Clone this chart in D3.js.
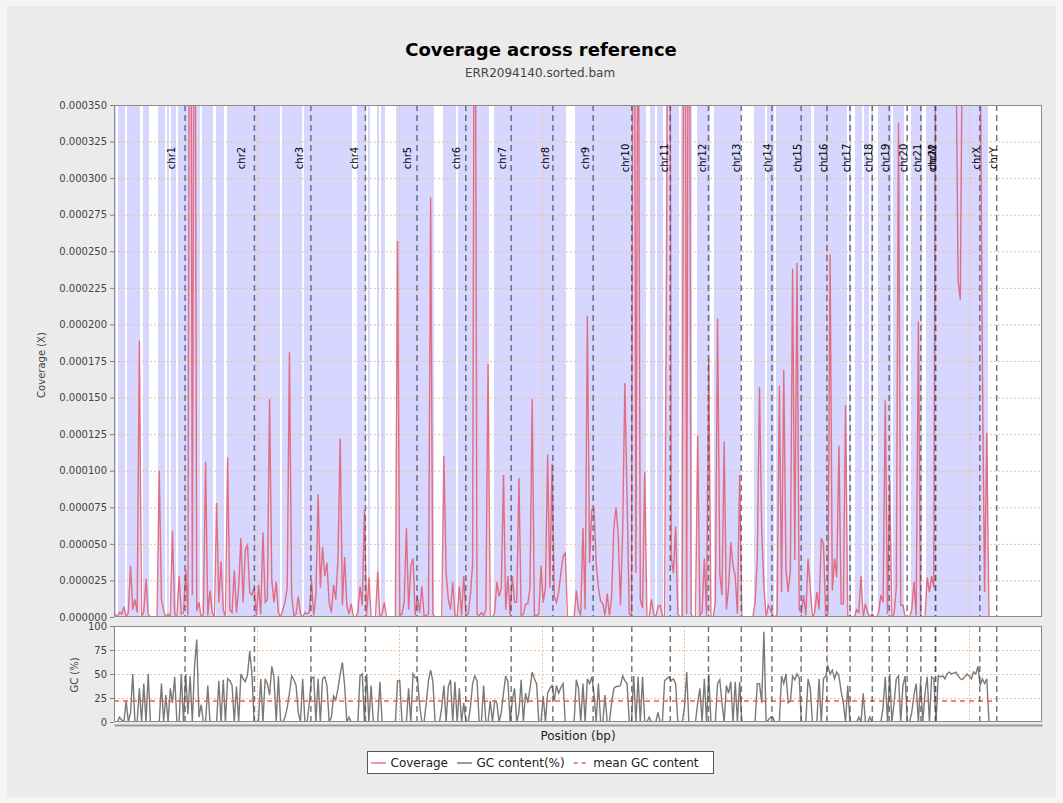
<!DOCTYPE html>
<html>
<head>
<meta charset="utf-8">
<script src="https://cdn.jsdelivr.net/npm/d3@7"></script>
<style>
  body { margin: 0; background: #f5f5f5; font-family: "DejaVu Sans", sans-serif; }
</style>
</head>
<body>
<svg id="chart" width="1063" height="803"></svg>
<script>
// chromosome names and lengths (bp)
const chromNames = ['chr1', 'chr2', 'chr3', 'chr4', 'chr5', 'chr6', 'chr7', 'chr8', 'chr9', 'chr10',
  'chr11', 'chr12', 'chr13', 'chr14', 'chr15', 'chr16', 'chr17', 'chr18', 'chr19', 'chr20',
  'chr21', 'chr22', 'chrM', 'chrX', 'chrY'];
const chromLengths = [249250621, 243199373, 198022430, 191154276, 180915260, 171115067, 159138663,
  146364022, 141213431, 135534747, 135006516, 133851895, 115169878, 107349540, 102531392,
  90354753, 81195210, 78077248, 59128983, 63025520, 48129895, 51304566, 16571, 155270560, 59373566];

// mean coverage per window (units of 1e-6 X), 400 windows
const coverage = [
  2, 0, 3, 2, 7, 0, 3, 35, 5, 12,
  3, 189, 0, 4, 26, 2, 0, 0, 0, 0,
  100, 12, 4, 0, 2, 0, 59, 2, 0, 28,
  2, 3, 32, 1, 700, 15, 600, 4, 10, 0,
  2, 106, 1, 18, 3, 0, 78, 10, 38, 5,
  0, 109, 5, 3, 32, 3, 20, 54, 10, 46,
  49, 17, 15, 20, 1, 22, 2, 58, 10, 12,
  149, 25, 10, 24, 3, 0, 5, 10, 20, 181,
  15, 1, 2, 14, 2, 0, 3, 2, 3, 25,
  1, 15, 84, 20, 48, 28, 37, 10, 3, 22,
  12, 40, 122, 8, 41, 8, 2, 9, 0, 0,
  3, 21, 8, 73, 0, 27, 0, 0, 0, 31,
  0, 2, 10, 0, 0, 0, 0, 0, 257, 1,
  2, 10, 61, 5, 35, 40, 1, 14, 3, 21,
  1, 1, 2, 287, 2, 0, 0, 0, 0, 110,
  30, 12, 5, 24, 1, 0, 21, 1, 28, 1,
  2, 15, 36, 600, 2, 1, 3, 1, 5, 173,
  0, 0, 3, 24, 14, 20, 97, 5, 28, 1,
  28, 10, 10, 95, 1, 2, 9, 9, 20, 149,
  1, 1, 2, 35, 10, 20, 111, 20, 105, 14,
  10, 17, 30, 41, 44, 0, 0, 0, 0, 18,
  5, 1, 61, 5, 206, 37, 73, 74, 37, 20,
  11, 9, 1, 16, 1, 14, 61, 75, 55, 8,
  59, 160, 80, 2, 1, 700, 30, 500, 12, 6,
  99, 0, 0, 12, 2, 0, 7, 8, 1, 0,
  286, 800, 41, 30, 62, 2, 0, 1, 700, 2,
  650, 2, 0, 0, 124, 1, 3, 40, 1, 176,
  0, 0, 10, 204, 30, 15, 120, 5, 20, 51,
  35, 28, 2, 97, 0, 0, 0, 0, 0, 0,
  10, 40, 157, 60, 21, 0, 8, 5, 1, 0,
  2, 158, 17, 169, 32, 17, 32, 238, 39, 242,
  5, 3, 15, 1, 40, 20, 0, 3, 17, 5,
  54, 50, 1, 2, 248, 18, 40, 27, 117, 9,
  9, 145, 0, 1, 0, 0, 5, 3, 28, 0,
  9, 3, 0, 2, 0, 0, 3, 15, 10, 148,
  2, 93, 0, 2, 20, 338, 8, 8, 0, 0,
  0, 5, 24, 1, 202, 1, 0, 0, 27, 17,
  28, 20, 520, 480, 510, 470, 500, 490, 460, 480,
  450, 400, 230, 217, 420, 470, 490, 480, 500, 470,
  480, 500, 400, 170, 17, 126, 0, 0, 0, 0
];

// GC content per window (%)
const gcContent = [
  0, 0, 5, 2, 0, 22, 0, 10, 50, 0,
  0, 35, 0, 40, 0, 50, 0, 0, 0, 0,
  0, 40, 0, 28, 0, 35, 20, 47, 0, 0,
  50, 0, 50, 8, 48, 0, 58, 86, 5, 18,
  0, 0, 38, 0, 0, 0, 0, 43, 0, 44,
  0, 45, 43, 38, 0, 37, 0, 50, 45, 42,
  49, 74, 50, 0, 0, 2, 45, 0, 45, 40,
  28, 58, 46, 0, 48, 0, 0, 5, 15, 30,
  48, 44, 38, 10, 0, 45, 0, 0, 20, 45,
  47, 0, 45, 0, 45, 47, 38, 0, 5, 27,
  23, 35, 50, 62, 38, 0, 5, 0, 0, 0,
  0, 48, 50, 0, 50, 0, 38, 0, 0, 0,
  42, 0, 0, 0, 0, 0, 0, 0, 43, 43,
  0, 0, 0, 35, 0, 50, 46, 46, 18, 0,
  0, 20, 43, 54, 42, 0, 0, 0, 15, 38,
  0, 37, 44, 0, 42, 0, 35, 0, 20, 0,
  0, 15, 40, 48, 43, 0, 0, 38, 0, 0,
  22, 0, 22, 20, 0, 10, 30, 48, 42, 0,
  22, 35, 0, 10, 44, 0, 30, 20, 35, 52,
  45, 40, 0, 0, 27, 0, 30, 35, 38, 22,
  38, 30, 36, 40, 0, 0, 0, 0, 0, 44,
  35, 0, 40, 0, 45, 40, 47, 30, 0, 40,
  0, 0, 28, 0, 0, 20, 35, 37, 37, 38,
  48, 43, 40, 0, 0, 48, 0, 47, 0, 47,
  0, 0, 5, 0, 0, 0, 10, 0, 0, 43,
  45, 47, 43, 45, 40, 0, 0, 0, 15, 52,
  0, 0, 0, 0, 20, 35, 0, 45, 0, 50,
  0, 0, 0, 40, 44, 20, 0, 38, 30, 42,
  0, 42, 0, 42, 0, 0, 0, 0, 0, 0,
  0, 40, 40, 20, 94, 0, 2, 5, 5, 0,
  0, 0, 48, 40, 50, 20, 22, 48, 44, 50,
  46, 0, 0, 0, 45, 35, 0, 0, 0, 45,
  0, 45, 48, 58, 50, 54, 45, 52, 48, 32,
  20, 0, 38, 0, 0, 0, 0, 5, 0, 30,
  0, 0, 5, 0, 0, 0, 0, 0, 15, 47,
  0, 50, 0, 20, 45, 48, 0, 38, 48, 0,
  0, 10, 28, 40, 0, 42, 0, 30, 47, 0,
  47, 45, 0, 48, 47, 48, 45, 50, 52, 50,
  51, 52, 48, 45, 44, 47, 50, 48, 45, 52,
  50, 58, 38, 45, 40, 45, 0, 0, 0, 0
];

const meanGC = 22;

// axis ticks
const covTicks = [0, 25, 50, 75, 100, 125, 150, 175, 200, 225, 250, 275, 300, 325, 350];
const gcTicks = [0, 25, 50, 75, 100];
const posTicks = [500e6, 1000e6, 1500e6, 2000e6, 2500e6, 3000e6];
const xMax = 3.2545e9;

const left = 114, right = 1042;
const covTop = 105, covBottom = 617;
const gcTop = 626, gcBottom = 722;

const svg = d3.select('#chart');

svg.append('rect')
  .attr('x', 7).attr('y', 6).attr('width', 1049).attr('height', 791)
  .attr('fill', '#ebebeb');

const genomeLength = d3.sum(chromLengths);
const chromEnds = Array.from(d3.cumsum(chromLengths));
const windowSize = genomeLength / coverage.length;
const windows = coverage.map((c, i) => ({
  start: i * windowSize,
  mid: (i + 0.5) * windowSize,
  end: (i + 1) * windowSize,
  cov: c,
  gc: gcContent[i]
}));

const x = d3.scaleLinear().domain([0, xMax]).range([left, right]);
const yCov = d3.scaleLinear().domain([0, 350]).range([covBottom, covTop]);
const yGC = d3.scaleLinear().domain([0, 100]).range([gcBottom, gcTop]);

// plot backgrounds and clip paths
const defs = svg.append('defs');
defs.append('clipPath').attr('id', 'clipCov')
  .append('rect').attr('x', left).attr('y', covTop).attr('width', right - left).attr('height', covBottom - covTop);
defs.append('clipPath').attr('id', 'clipGC')
  .append('rect').attr('x', left).attr('y', gcTop).attr('width', right - left).attr('height', gcBottom - gcTop);

svg.append('rect').attr('x', left).attr('y', covTop).attr('width', right - left)
  .attr('height', covBottom - covTop).attr('fill', '#fff');
svg.append('rect').attr('x', left).attr('y', gcTop).attr('width', right - left)
  .attr('height', gcBottom - gcTop).attr('fill', '#fff');

const covPlot = svg.append('g').attr('clip-path', 'url(#clipCov)');
const gcPlot = svg.append('g').attr('clip-path', 'url(#clipGC)');

// deviation band: windows with reads
covPlot.append('g')
  .selectAll('rect')
  .data(windows.filter(d => d.cov > 0))
  .enter()
  .append('rect')
  .attr('x', d => x(d.start))
  .attr('width', d => x(d.end) - x(d.start))
  .attr('y', covTop)
  .attr('height', covBottom - covTop)
  .attr('fill', '#d6d6ff')
  .attr('shape-rendering', 'crispEdges');

// gridlines
const gridColor = '#f0bf98';
covPlot.append('g')
  .selectAll('line')
  .data(covTicks.filter(t => t > 0))
  .enter()
  .append('line')
  .attr('x1', left).attr('x2', right)
  .attr('y1', d => yCov(d) + 0.5).attr('y2', d => yCov(d) + 0.5)
  .attr('stroke', gridColor).attr('stroke-dasharray', '2,2');
gcPlot.append('g')
  .selectAll('line')
  .data(gcTicks.filter(t => t > 0))
  .enter()
  .append('line')
  .attr('x1', left).attr('x2', right)
  .attr('y1', d => yGC(d) + 0.5).attr('y2', d => yGC(d) + 0.5)
  .attr('stroke', gridColor).attr('stroke-dasharray', '2,2');
[[covPlot, covTop, covBottom], [gcPlot, gcTop, gcBottom]].forEach(([g, t, b]) => {
  g.append('g')
    .selectAll('line')
    .data(posTicks)
    .enter()
    .append('line')
    .attr('x1', d => Math.round(x(d)) + 0.5).attr('x2', d => Math.round(x(d)) + 0.5)
    .attr('y1', t).attr('y2', b)
    .attr('stroke', gridColor).attr('stroke-dasharray', '2,2');
});

// coverage line
covPlot.append('path')
  .datum(windows)
  .attr('d', d3.line().x(d => x(d.mid)).y(d => yCov(d.cov)))
  .attr('fill', 'none')
  .attr('stroke', '#e35a6b')
  .attr('stroke-opacity', 0.85)
  .attr('stroke-width', 1.4);

// GC line and mean GC
gcPlot.append('path')
  .datum(windows)
  .attr('d', d3.line().x(d => x(d.mid)).y(d => yGC(d.gc)))
  .attr('fill', 'none')
  .attr('stroke', '#6a6a6a')
  .attr('stroke-opacity', 0.9)
  .attr('stroke-width', 1.4);

gcPlot.append('line')
  .attr('x1', x(0)).attr('x2', x(genomeLength))
  .attr('y1', yGC(meanGC)).attr('y2', yGC(meanGC))
  .attr('stroke', '#f05a5a')
  .attr('stroke-width', 1.5)
  .attr('stroke-dasharray', '5,4');

// chromosome boundaries
[[covPlot, covTop, covBottom], [gcPlot, gcTop, gcBottom]].forEach(([g, t, b]) => {
  g.append('g')
    .selectAll('line')
    .data(chromEnds)
    .enter()
    .append('line')
    .attr('x1', d => x(d)).attr('x2', d => x(d))
    .attr('y1', t).attr('y2', b)
    .attr('stroke', '#4a4a55')
    .attr('stroke-opacity', 0.75)
    .attr('stroke-width', 1.5)
    .attr('stroke-dasharray', '6,4');
});

covPlot.append('g')
  .selectAll('text')
  .data(chromNames)
  .enter()
  .append('text')
  .attr('transform', (d, i) => {
    const px = x(chromEnds[i]);
    const off = Math.max(0, 10 - 10 * (px - 186) / 650);
    return 'translate(' + (px - off) + ',158)rotate(-90)';
  })
  .attr('text-anchor', 'middle')
  .attr('font-size', 10)
  .attr('fill', '#000')
  .text(d => d);

// plot outlines
svg.append('rect').attr('x', left + 0.5).attr('y', covTop + 0.5)
  .attr('width', right - left - 1).attr('height', covBottom - covTop - 1)
  .attr('fill', 'none').attr('stroke', '#8a8a8a');
svg.append('rect').attr('x', left + 0.5).attr('y', gcTop + 0.5)
  .attr('width', right - left - 1).attr('height', gcBottom - gcTop - 1)
  .attr('fill', 'none').attr('stroke', '#8a8a8a');

// axes
const covAxis = svg.append('g')
  .attr('transform', 'translate(' + left + ',0)')
  .call(d3.axisLeft(yCov).tickValues(covTicks)
    .tickFormat(v => d3.format('.6f')(v / 1e6))
    .tickSize(4).tickPadding(3));
const gcAxis = svg.append('g')
  .attr('transform', 'translate(' + left + ',0)')
  .call(d3.axisLeft(yGC).tickValues(gcTicks).tickSize(4).tickPadding(3));
[covAxis, gcAxis].forEach(a => {
  a.select('.domain').remove();
  a.selectAll('line').attr('stroke', '#808080');
  a.selectAll('text').attr('font-family', 'DejaVu Sans').attr('font-size', 10).attr('fill', '#444');
});

const xAxis = svg.append('g')
  .attr('transform', 'translate(0,725)')
  .call(d3.axisBottom(x).tickValues([]).tickSizeOuter(0));
xAxis.select('.domain').attr('stroke', '#9a9a9a').attr('stroke-width', 2);

// axis titles
svg.append('text')
  .attr('transform', 'translate(45,365)rotate(-90)')
  .attr('text-anchor', 'middle')
  .attr('font-size', 10).attr('fill', '#444')
  .text('Coverage (X)');
svg.append('text')
  .attr('transform', 'translate(78,675)rotate(-90)')
  .attr('text-anchor', 'middle')
  .attr('font-size', 10).attr('fill', '#444')
  .text('GC (%)');
svg.append('text')
  .attr('x', (left + right) / 2).attr('y', 740)
  .attr('text-anchor', 'middle')
  .attr('font-size', 12).attr('fill', '#222')
  .text('Position (bp)');

// title
svg.append('text')
  .attr('x', 541).attr('y', 56)
  .attr('text-anchor', 'middle')
  .attr('font-size', 18).attr('font-weight', 'bold').attr('fill', '#000')
  .text('Coverage across reference');
svg.append('text')
  .attr('x', 540).attr('y', 77)
  .attr('text-anchor', 'middle')
  .attr('font-size', 12).attr('fill', '#444')
  .text('ERR2094140.sorted.bam');

// legend
const legendItems = [
  {label: 'Coverage', color: '#f07080', dash: null},
  {label: 'GC content(%)', color: '#777', dash: null},
  {label: 'mean GC content', color: '#f05a5a', dash: '4,4'}
];
const legend = svg.append('g');
legend.append('rect')
  .attr('x', 367.5).attr('y', 751.5).attr('width', 346).attr('height', 22)
  .attr('fill', '#fff').attr('stroke', '#555');
let lx = 371;
legendItems.forEach(item => {
  legend.append('line')
    .attr('x1', lx).attr('x2', lx + 15)
    .attr('y1', 763).attr('y2', 763)
    .attr('stroke', item.color).attr('stroke-width', 1.5)
    .attr('stroke-dasharray', item.dash);
  const t = legend.append('text')
    .attr('x', lx + 19.5).attr('y', 767)
    .attr('font-size', 12).attr('fill', '#222')
    .text(item.label);
  lx += 19.5 + t.node().getComputedTextLength() + 9;
});
</script>
</body>
</html>
